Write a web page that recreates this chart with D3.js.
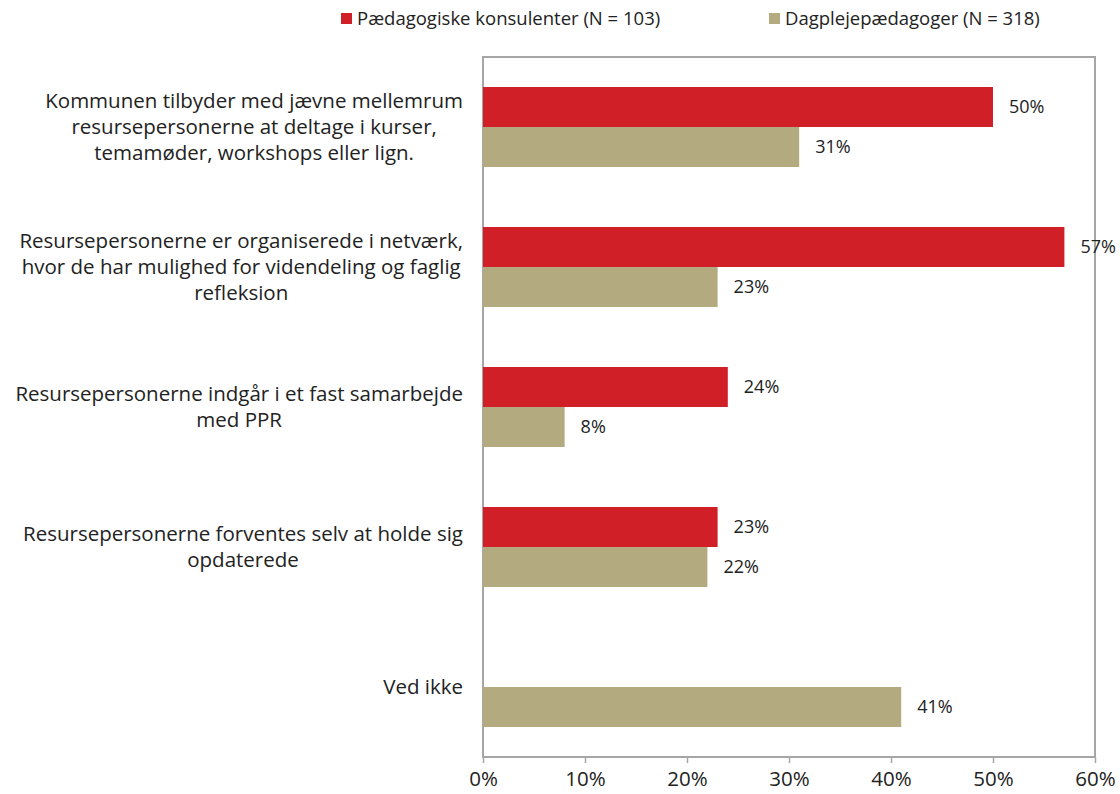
<!DOCTYPE html>
<html><head><meta charset="utf-8">
<script src="https://cdn.jsdelivr.net/npm/d3@7"></script>
<style>body{margin:0;background:#fff}svg{display:block}text{font-family:"Open Sans","Noto Sans",sans-serif;fill:#222}</style>
</head><body><svg id="c" width="1120" height="794"></svg>
<script>
const categories = [
  ["Kommunen tilbyder med jævne mellemrum","resursepersonerne at deltage i kurser,","temamøder, workshops eller lign."],
  ["Resursepersonerne er organiserede i netværk,","hvor de har mulighed for videndeling og faglig","refleksion"],
  ["Resursepersonerne indgår i et fast samarbejde","med PPR"],
  ["Resursepersonerne forventes selv at holde sig","opdaterede"],
  ["Ved ikke"]
];
const seriesNames = ["Pædagogiske konsulenter (N = 103)", "Dagplejepædagoger (N = 318)"];
const konsulenter = [50, 57, 24, 23, null];
const dagpleje = [31, 23, 8, 22, 41];
const tickValues = [0, 10, 20, 30, 40, 50, 60];
const colors = ["#d01f27", "#b3aa7f"];

const svg = d3.select("#c");
const L = 483, R = 1095, T = 57, B = 757;
const x = d3.scaleLinear().domain([0, 60]).range([L, R]);
const y = d3.scaleBand().domain(d3.range(categories.length)).range([T, B]).paddingInner(60/140).paddingOuter(30/140);
const ys = d3.scaleBand().domain([0, 1]).range([0, y.bandwidth()]);

// frame
svg.append("rect").attr("x", L).attr("y", T).attr("width", R - L).attr("height", B - T)
  .attr("fill", "none").attr("stroke", "#a6a6a6").attr("stroke-width", 2);

// x axis
const ax = svg.append("g").attr("transform", `translate(0,${B})`)
  .call(d3.axisBottom(x).tickValues(tickValues).tickFormat(d => d + "%").tickSize(6).tickPadding(8));
ax.select(".domain").remove();
ax.selectAll("line").attr("stroke", "#a6a6a6").attr("stroke-width", 1.5);
ax.selectAll("text").attr("font-size", 20.5).attr("fill", "#222").attr("font-family", '"Open Sans","Noto Sans",sans-serif');

const series = [konsulenter, dagpleje];
series.forEach((vals, si) => {
  const g = svg.append("g");
  vals.forEach((v, i) => {
    if (v == null) return;
    const yy = y(i) + ys(si);
    g.append("rect").attr("x", x(0)).attr("y", yy).attr("width", x(v) - x(0)).attr("height", ys.bandwidth())
      .attr("fill", colors[si]);
    g.append("text").attr("x", x(v) + 16).attr("y", yy + ys.bandwidth() / 2).attr("dy", "0.35em")
      .attr("font-size", 18).text(v + "%");
  });
});

// category labels
const lh = 26;
categories.forEach((lines, i) => {
  const g = svg.append("g");
  const cy = y(i) + y.bandwidth() / 2;
  const t = g.append("text").attr("font-size", 20.5).attr("text-anchor", "middle");
  lines.forEach((ln, k) => {
    t.append("tspan").attr("x", 0).attr("y", cy + (k - (lines.length - 1) / 2) * lh).attr("dy", "0.35em").text(ln);
  });
  const w = t.node().getBBox().width;
  t.attr("transform", `translate(${463 - w / 2},0)`);
});

// legend
const legX = [341, 769];
seriesNames.forEach((n, i) => {
  svg.append("rect").attr("x", legX[i]).attr("y", 13).attr("width", 11).attr("height", 11).attr("fill", colors[i]);
  svg.append("text").attr("x", legX[i] + 16).attr("y", 19).attr("dy", "0.35em").attr("font-size", 18.5).text(n);
});
</script></body></html>
